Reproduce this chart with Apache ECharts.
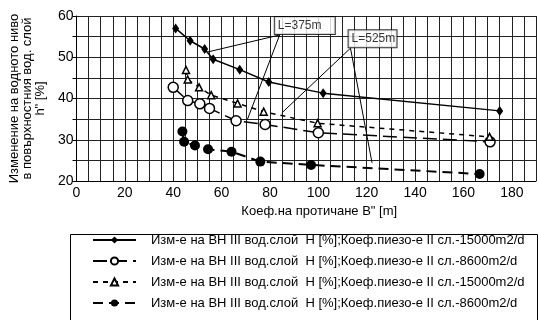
<!DOCTYPE html>
<html>
<head>
<meta charset="utf-8">
<script src="https://cdn.jsdelivr.net/npm/echarts@6/dist/echarts.min.js"></script>
<style>
  html, body { margin: 0; padding: 0; background: #fff; }
  #chart { width: 539px; height: 320px; }
</style>
</head>
<body>
<div id="chart"></div>
<script>
  var FONT = '"Liberation Sans", Arial, sans-serif';

  // koef. B" [m] / h" [%]
  var xDiamond = [41, 47, 53, 56.5, 67.5, 79.5, 102, 175];
  var yDiamond = [57, 54, 52, 49.5, 47, 44, 41.3, 37];
  var xOpen = [40, 46, 51, 55, 66, 78, 100, 171];
  var yOpen = [42.7, 39.5, 38.7, 37.6, 34.6, 33.7, 31.7, 29.5];
  var xTri = [45.3, 46, 50.7, 55.7, 66.6, 77.4, 99.7, 170.8];
  var yTri = [46.9, 44.6, 42.7, 40.8, 38.8, 36.8, 34, 30.7];
  var xFill = [43.8, 44.5, 49, 54.4, 64.1, 76, 97, 166.7];
  var yFill = [32, 29.5, 28.6, 27.7, 27.1, 24.7, 23.9, 21.7];

  var name15000 = 'Изм-е на ВН III вод.слой  Н [%];Коеф.пиезо-е II сл.-15000m2/d';
  var name8600 = 'Изм-е на ВН III вод.слой  Н [%];Коеф.пиезо-е II сл.-8600m2/d';
  // same texts twice in the legend, trailing space keeps them apart
  var seriesNames = [name15000, name8600, name15000 + ' ', name8600 + ' '];

  var calloutLabels = ['L=375m', 'L=525m'];
  var calloutAt = [[82, 57.7], [112.5, 54.5]];
  var calloutWidth = [56, 44];
  var leaderFrom = [[84, 55.4], [84, 55.4], [113.3, 52.2], [113.3, 52.2]];
  var leaderTo = [[54.4, 51.3], [70.6, 34.8], [84.9, 36.5], [122.2, 24.4]];

  var yTitle = 'Изменение на водното ниво\nв повърхностния вод. слой\nh" [%]';
  var xTitle = 'Коеф.на протичане B" [m]';

  function pairs(xs, ys) {
    var out = [];
    for (var i = 0; i < xs.length; i++) out.push([xs[i], ys[i]]);
    return out;
  }

  var chart = echarts.init(document.getElementById('chart'), null, {renderer: 'canvas'});

  var callouts = [];
  for (var i = 0; i < calloutLabels.length; i++) {
    callouts.push({
      value: calloutAt[i],
      label: {
        show: true,
        position: 'right',
        distance: 0,
        formatter: calloutLabels[i],
        width: calloutWidth[i],
        padding: [3, 1, 2, 3],
        color: '#000',
        fontFamily: FONT,
        fontSize: 12,
        backgroundColor: '#fff',
        borderColor: '#000',
        borderWidth: 1
      }
    });
  }

  var leaders = [];
  for (var j = 0; j < leaderFrom.length; j++) {
    leaders.push([{coord: leaderFrom[j]}, {coord: leaderTo[j]}]);
  }

  var option = {
    animation: false,
    backgroundColor: '#fff',
    grid: {left: 71, top: 16, right: 0, bottom: 139},
    // legend frame, its bottom edge lies below the picture
    graphic: [{
      type: 'rect',
      left: 68,
      top: 232,
      shape: {width: 467, height: 100},
      style: {fill: 'none', stroke: '#000', lineWidth: 1},
      silent: true
    }],
    xAxis: {
      type: 'value',
      min: 0,
      max: 190,
      interval: 5,
      name: xTitle,
      nameLocation: 'middle',
      nameGap: 22,
      nameTextStyle: {color: '#000', fontFamily: FONT, fontSize: 13, padding: [0, 0, 0, 26]},
      axisLine: {lineStyle: {color: '#000', width: 1}},
      axisTick: {show: false},
      axisLabel: {
        color: '#000', fontFamily: FONT, fontSize: 14, margin: 5,
        formatter: function (v) { return v % 20 === 0 ? String(v) : ''; }
      },
      splitLine: {show: true, lineStyle: {color: '#222', width: 1}}
    },
    yAxis: {
      type: 'value',
      min: 20,
      max: 60,
      interval: 5,
      name: yTitle,
      nameLocation: 'middle',
      nameRotate: 90,
      nameGap: 21,
      nameTextStyle: {color: '#000', fontFamily: FONT, fontSize: 13, lineHeight: 13, align: 'center'},
      axisLine: {show: true, lineStyle: {color: '#000', width: 1}},
      axisTick: {show: true, length: 4, lineStyle: {color: '#000'}},
      axisLabel: {
        color: '#000', fontFamily: FONT, fontSize: 14, margin: 3,
        formatter: function (v) { return v % 10 === 0 ? String(v) : ''; }
      },
      splitLine: {show: true, lineStyle: {color: '#222', width: 1}}
    },
    legend: {
      orient: 'vertical',
      left: 68,
      top: 232,
      data: seriesNames,
      itemWidth: 43,
      itemHeight: 9,
      itemGap: 7,
      padding: [1, 10, 4, 24],
      textStyle: {color: '#000', fontFamily: FONT, fontSize: 13, lineHeight: 14, padding: [0, 0, 0, 10]}
    },
    series: [
      {
        name: seriesNames[0],
        type: 'line',
        data: pairs(xDiamond, yDiamond),
        symbol: 'diamond',
        symbolSize: [7, 10],
        itemStyle: {color: '#000'},
        lineStyle: {color: '#000', width: 1.5},
        z: 4
      },
      {
        name: seriesNames[1],
        type: 'line',
        data: pairs(xOpen, yOpen),
        symbol: 'circle',
        symbolSize: 10,
        itemStyle: {color: '#fff', borderColor: '#000', borderWidth: 1.5},
        lineStyle: {color: '#000', width: 1.5, type: [14, 6]},
        z: 3
      },
      {
        name: seriesNames[2],
        type: 'line',
        data: pairs(xTri, yTri),
        symbol: 'triangle',
        symbolSize: 7,
        itemStyle: {color: '#fff', borderColor: '#000', borderWidth: 1.5},
        lineStyle: {color: '#000', width: 1.5, type: [5, 5]},
        z: 3
      },
      {
        name: seriesNames[3],
        type: 'line',
        data: pairs(xFill, yFill),
        symbol: 'circle',
        symbolSize: 10,
        itemStyle: {color: '#000'},
        lineStyle: {color: '#000', width: 2, type: [10, 6]},
        z: 3
      },
      {
        type: 'scatter',
        data: callouts,
        symbolSize: 0,
        silent: true,
        z: 6,
        markLine: {
          silent: true,
          symbol: 'none',
          label: {show: false},
          lineStyle: {color: '#000', width: 1, type: 'solid'},
          data: leaders
        }
      }
    ]
  };

  chart.setOption(option);
</script>
</body>
</html>
